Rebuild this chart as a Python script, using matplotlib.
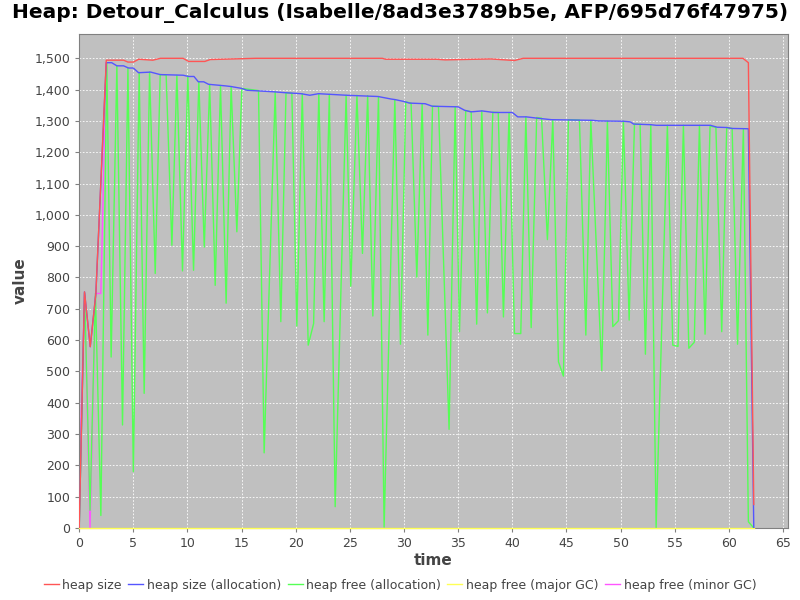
import matplotlib
matplotlib.use('Agg')
import matplotlib.pyplot as plt
from matplotlib.ticker import FuncFormatter, MultipleLocator

# Heap statistics (time in s, value in MB)
sizeTime = [0, 0.49, 1.02, 1.54, 2.5, 4.1, 4.5, 5.0, 5.5, 6.8, 7.5, 9.6, 10.1, 11.6, 12.1,
            16.3, 28.0, 28.3, 33.0, 33.8, 38.0, 40.2, 41.0, 50.0, 61.3, 61.8, 62.3]
sizeValue = [0, 754, 579, 749, 1494, 1494, 1488, 1488, 1497, 1494, 1500, 1500, 1490, 1490, 1496,
             1500, 1500, 1497, 1497, 1495, 1498, 1493, 1500, 1500, 1500, 1486, 75]

allocTime = [0, 0.49, 1.02, 1.54, 2.5, 3.0, 3.48, 4.1, 4.55, 5.0, 5.48, 6.6, 7.48, 9.6, 10.1,
             10.6, 11.0, 11.5, 11.95, 13.5, 14.0, 15.0, 15.48, 18.0, 19.1, 20.5, 21.3, 22.1,
             24.7, 27.6, 28.8, 29.2, 30.0, 30.5, 31.95, 32.6, 35.0, 35.6, 36.2, 37.2, 38.3,
             40.0, 40.5, 41.3, 42.5, 43.6, 47.4, 48.0, 50.26, 50.9, 51.2, 52.8, 53.3, 58.3,
             58.9, 59.8, 60.3, 61.8, 62.3]
allocValue = [0, 754, 579, 749, 1486, 1486, 1476, 1476, 1469, 1469, 1454, 1456, 1448, 1446, 1442,
              1442, 1425, 1425, 1417, 1412, 1410, 1404, 1398, 1393, 1390, 1387, 1382, 1387,
              1382, 1378, 1370, 1368, 1362, 1357, 1355, 1347, 1345, 1334, 1329, 1332, 1327,
              1327, 1313, 1313, 1308, 1304, 1302, 1300, 1299, 1297, 1290, 1288, 1286, 1286,
              1280, 1279, 1276, 1275, 0]

freeTime = [0, 0.5, 1.0, 1.5, 2.0, 2.55, 2.95, 3.48, 4.0, 4.5, 5.0, 5.54, 6.0, 6.5, 7.02, 7.48,
            8.03, 8.56, 9.02, 9.54, 10.03, 10.56, 11.05, 11.55, 12.05, 12.56, 13.05, 13.57,
            14.03, 14.56, 15.02, 16.56, 17.08, 18.1, 18.62, 19.1, 19.64, 20.1, 20.6, 21.15,
            21.65, 22.13, 22.62, 23.1, 23.64, 24.65, 25.08, 25.65, 26.16, 26.64, 27.12, 27.64,
            28.16, 29.15, 29.67, 30.16, 30.65, 31.18, 31.67, 32.2, 32.63, 33.18, 34.16, 34.72,
            35.12, 35.7, 36.2, 36.71, 37.18, 37.7, 38.2, 38.7, 39.18, 39.7, 40.2, 40.78, 41.25,
            41.74, 42.25, 42.7, 43.24, 43.74, 44.26, 44.72, 45.18, 46.2, 46.79, 47.25, 48.26,
            48.78, 49.28, 49.8, 50.26, 50.79, 51.28, 51.8, 52.29, 52.79, 53.28, 54.32, 54.82,
            55.3, 55.8, 56.3, 56.8, 57.28, 57.8, 58.26, 58.8, 59.34, 59.8, 60.3, 60.8, 61.34,
            61.8, 62.3]
freeValue = [0, 750, 57, 749, 40, 1486, 546, 1476, 329, 1469, 180, 1455, 430, 1456, 813, 1448,
             1447, 903, 1446, 821, 1444, 823, 1425, 897, 1416, 775, 1413, 718,
             1410, 946, 1404, 1397, 240, 1393, 659, 1390, 1389, 645, 1387, 584,
             653, 1387, 659, 1385, 68, 1382, 772, 1382, 877, 1381, 677, 1378,
             3, 1368, 587, 1361, 1357, 801, 1355, 616, 1347, 1346, 315, 1345,
             627, 1333, 1329, 651, 1332, 687, 1328, 1327, 674, 1327, 621, 621, 1313,
             640, 1311, 1309, 921, 1304, 531, 485, 1304, 1303, 616, 1302, 503,
             1299, 643, 662, 1299, 664, 1290, 1289, 555, 1288, 2, 1286, 584,
             580, 1286, 574, 593, 1286, 619, 1283, 1280, 627, 1279, 1276, 587, 1275,
             20, 0]

majorTime = [0, 62.3]
majorValue = [0, 0]

minorTime = [0, 0.5, 1.0, 1.5, 2.0, 2.5]
minorValue = [150, 750, 0, 749, 749, 1486]

# JFreeChart-like style
grey = '#444444'
fig = plt.figure(figsize=(8, 6), dpi=100)
ax = fig.add_axes([0.099, 0.12, 0.886, 0.823])
ax.set_facecolor('#c0c0c0')

# first series on top, as in the original renderer
ax.plot(minorTime, minorValue, color='#ff55ff', linewidth=1, zorder=2)
ax.plot(majorTime, majorValue, color='#ffff55', linewidth=1, zorder=3, clip_on=False)
ax.plot(freeTime, freeValue, color='#55ff55', linewidth=1, zorder=4)
ax.plot(allocTime, allocValue, color='#5555ff', linewidth=1, zorder=5)
ax.plot(sizeTime, sizeValue, color='#ff5555', linewidth=1, zorder=6)

ax.set_xlim(0, 65.46)
ax.set_ylim(0, 1577)
ax.xaxis.set_major_locator(MultipleLocator(5))
ax.yaxis.set_major_locator(MultipleLocator(100))
ax.yaxis.set_major_formatter(FuncFormatter(lambda v, p: f'{int(v):,}'))
ax.grid(True, color='white', linestyle=(0, (2, 2)), linewidth=0.6)
ax.set_axisbelow(True)

for spine in ax.spines.values():
    spine.set_color('#808080')
ax.tick_params(colors=grey, labelsize=9, length=3, direction='out')
ax.tick_params(axis='both', color='#808080')

ax.set_xlabel('time', fontsize=11, fontweight='bold', color=grey, labelpad=2)
ax.set_ylabel('value', fontsize=11, fontweight='bold', color=grey, labelpad=5)
fig.suptitle('Heap: Detour_Calculus (Isabelle/8ad3e3789b5e, AFP/695d76f47975)',
             fontsize=14.5, fontweight='bold', x=0.5, y=0.995)

labels = ['heap size', 'heap size (allocation)', 'heap free (allocation)',
          'heap free (major GC)', 'heap free (minor GC)']
colors = ['#ff5555', '#5555ff', '#55ff55', '#ffff55', '#ff55ff']
handles = [plt.Line2D([], [], color=c, linewidth=1) for c in colors]
fig.legend(handles, labels, loc='lower center', ncol=5, frameon=False,
           bbox_to_anchor=(0.5, -0.005), fontsize=9, handlelength=1.2,
           handletextpad=0.3, columnspacing=0.5, labelcolor=grey)

fig.savefig('out.png', dpi=100)
